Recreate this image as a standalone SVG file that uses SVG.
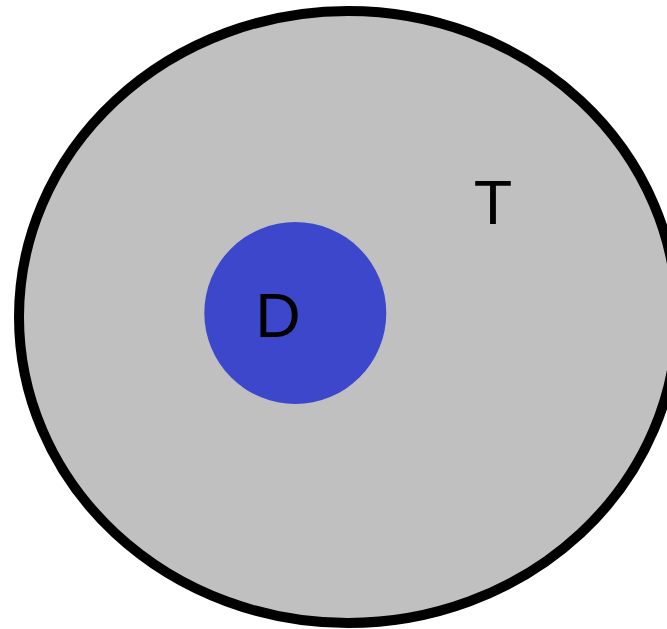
<svg xmlns="http://www.w3.org/2000/svg" width="667" height="629" viewBox="0 0 667 629">
<style>
.lbl{font-family:"Liberation Sans",Arial,sans-serif;font-size:63px;fill:#000;text-anchor:middle}
</style>
<rect width="667" height="629" fill="#fff"/>
<g id="T">
<ellipse cx="348" cy="317" rx="329" ry="306" fill="#c0c0c0" stroke="#000" stroke-width="10"/>
<text class="lbl" x="493" y="224">T</text>
</g>
<g id="D">
<circle cx="295.3" cy="313" r="91" fill="#3d47cc"/>
<text class="lbl" x="278" y="337">D</text>
</g>
<g id="connectors"/>
</svg>
